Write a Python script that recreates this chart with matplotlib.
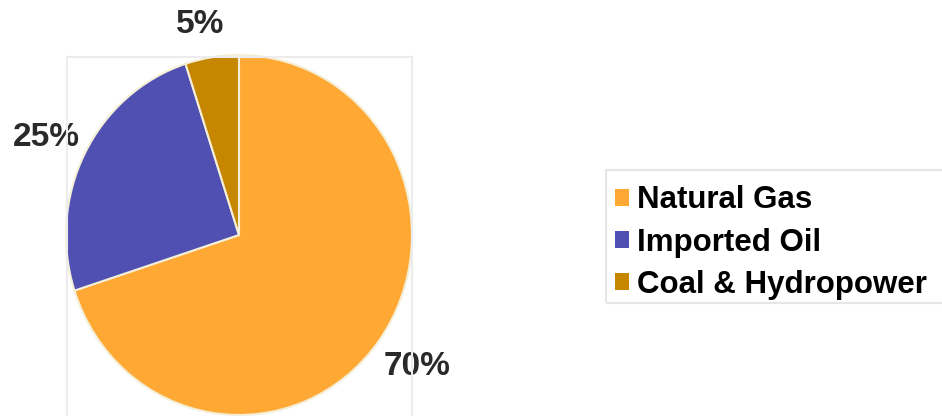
import numpy as np
import matplotlib.pyplot as plt
from matplotlib.lines import Line2D
from matplotlib.patches import Rectangle

# energy mix shares (percent)
sources = ['Natural Gas', 'Imported Oil', 'Coal & Hydropower']
shares = [70, 25, 5]
pct_labels = ['70%', '25%', '5%']
colors = ['#FFA834', '#5050B2', '#C68600']

W, H = 942, 416
fig = plt.figure(figsize=(W / 100, H / 100), dpi=100)
plt.rcParams['font.family'] = ['Liberation Sans', 'DejaVu Sans']

# faint plot-area frame around the pie
frame_kw = dict(color='#ececec', lw=1.5, transform=fig.transFigure)
fig.add_artist(Line2D([67 / W, 67 / W], [0, 1 - 57 / H], **frame_kw))
fig.add_artist(Line2D([412 / W, 412 / W], [0, 1 - 57 / H], **frame_kw))
fig.add_artist(Line2D([67 / W, 412 / W], [1 - 57 / H, 1 - 57 / H], **frame_kw))

ax = fig.add_axes([66 / W, 1 / H, 346 / W, 360 / H])
wedges, _ = ax.pie(shares, colors=colors, startangle=90, counterclock=False,
                   wedgeprops=dict(edgecolor='#f4efd6', linewidth=1.5))
ax.set_aspect('auto')
ax.set_xlim(-1, 1)
ax.set_ylim(-1, 1)
ax.axis('off')

# percent labels just outside each wedge (radius, angle nudge in degrees)
label_dist = [1.26, 1.24, 1.19]
label_nudge = [0.6, 1.0, 1.9]
for w, txt, d, nd in zip(wedges, pct_labels, label_dist, label_nudge):
    mid = np.deg2rad((w.theta1 + w.theta2) / 2 + nd)
    ax.text(d * np.cos(mid), d * np.sin(mid), txt, ha='center', va='center',
            fontsize=24, fontweight='bold', color='#2a2a2a', clip_on=False)

# legend box runs off the right edge of the figure
fig.add_artist(Rectangle((606 / W, 1 - 303 / H), 360 / W, 133 / H,
                         transform=fig.transFigure, facecolor='none',
                         edgecolor='#e6e6e6', lw=1.5))
leg = fig.legend(wedges, sources, loc='upper left',
                 bbox_to_anchor=(606 / W, 1 - 176 / H), borderaxespad=0,
                 handlelength=0.45, handleheight=0.45,
                 handletextpad=0.25, labelspacing=0.39, borderpad=0.3,
                 frameon=False, prop=dict(weight='bold', size=22.5))
for h in leg.legend_handles:
    h.set_edgecolor('none')

fig.savefig('out.png', dpi=100)
